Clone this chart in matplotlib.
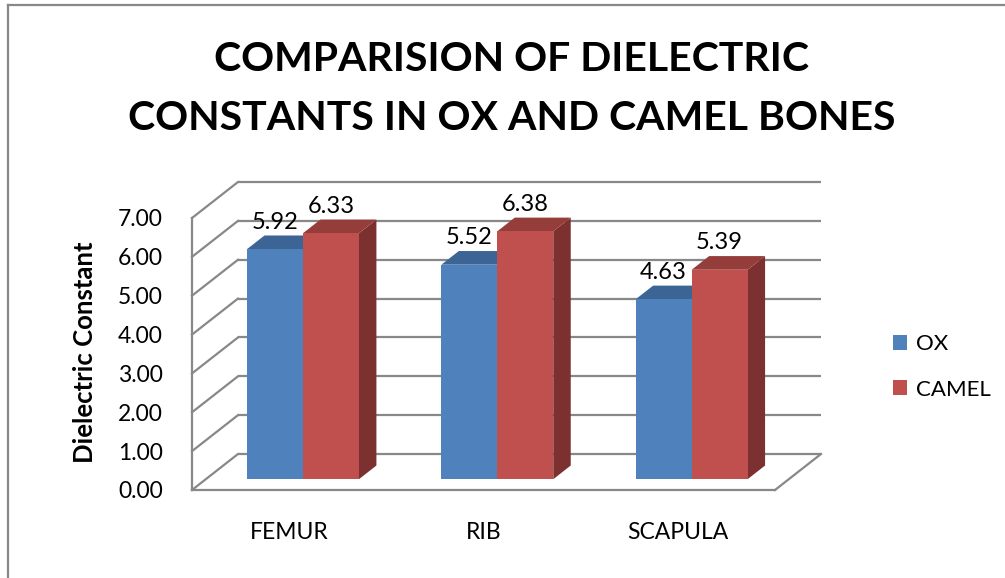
import matplotlib
matplotlib.use("Agg")
import matplotlib.pyplot as plt
from matplotlib.patches import Polygon, Rectangle, Patch
from matplotlib.lines import Line2D

plt.rcParams['font.family'] = ['Lato', 'DejaVu Sans']

# ---- data ----
categories = ["FEMUR", "RIB", "SCAPULA"]
series_names = ["OX", "CAMEL"]
ox_values = [5.92, 5.52, 4.63]
camel_values = [6.33, 6.38, 5.39]
y_ticks = [0, 1, 2, 3, 4, 5, 6, 7]
y_tick_labels = ["0.00", "1.00", "2.00", "3.00", "4.00", "5.00", "6.00", "7.00"]
title = "COMPARISION OF DIELECTRIC\nCONSTANTS IN OX AND CAMEL BONES"
y_label = "Dielectric Constant"

# ---- style ----
front_colors = ["#4F81BD", "#C0504D"]
top_colors = ["#3C6494", "#953D3B"]
side_colors = ["#2F5180", "#7C3130"]
grid_color = "#888888"

W, H = 1005, 578
fig = plt.figure(figsize=(W / 100, H / 100), dpi=100)
fig.patch.set_facecolor("white")

# axes in pixel layout
left_px, right_px, bottom_px, top_px = 192, 821, 490, 182
ax = fig.add_axes([left_px / W, (H - bottom_px) / H,
                   (right_px - left_px) / W, (bottom_px - top_px) / H])
ncat = len(categories)
ymax = 7
sx = 583 / ncat          # px per category
sy = 272 / ymax          # px per unit
dxd = 46 / sx            # depth offset in data units
dyd = 36 / sy
ax.set_xlim(0, ncat + dxd)
ax.set_ylim(0, ymax + dyd)
for s in ax.spines.values():
    s.set_visible(False)
ax.set_facecolor("none")

lw = 1.6
# back wall gridlines
for v in y_ticks:
    ax.plot([dxd, ncat + dxd], [v + dyd, v + dyd], color=grid_color, lw=lw,
            clip_on=False, zorder=1, solid_capstyle='butt')
# left wall
for v in y_ticks:
    ax.plot([0, dxd], [v, v + dyd], color=grid_color, lw=lw, clip_on=False, zorder=1)
ax.plot([0, 0], [0, ymax], color=grid_color, lw=lw, clip_on=False, zorder=1)
# floor
ax.plot([0, ncat], [0, 0], color=grid_color, lw=lw, clip_on=False, zorder=1)
ax.plot([ncat, ncat + dxd], [0, dyd], color=grid_color, lw=lw, clip_on=False, zorder=1)

# bars
bw = 0.288
f0 = 0.30   # front position in depth
d = 0.38    # bar depth fraction
values = [ox_values, camel_values]
yb = f0 * dyd
for i in range(ncat):
    for j in range(len(series_names)):
        val = values[j][i]
        x0 = i + 0.5 - bw + j * bw + f0 * dxd
        ddx, ddy = d * dxd, d * dyd
        side = Polygon([(x0 + bw, yb), (x0 + bw + ddx, yb + ddy),
                        (x0 + bw + ddx, yb + val + ddy), (x0 + bw, yb + val)],
                       closed=True, facecolor=side_colors[j], edgecolor='none',
                       zorder=2, clip_on=False)
        top = Polygon([(x0, yb + val), (x0 + bw, yb + val),
                       (x0 + bw + ddx, yb + val + ddy), (x0 + ddx, yb + val + ddy)],
                      closed=True, facecolor=top_colors[j], edgecolor='none',
                      zorder=2, clip_on=False)
        front = Rectangle((x0, yb), bw, val, facecolor=front_colors[j],
                          edgecolor='none', zorder=2, clip_on=False)
        ax.add_patch(side)
        ax.add_patch(top)
        ax.add_patch(front)
        ax.annotate(f"{val:.2f}", xy=(x0 + bw / 2, yb + val), xytext=(0, 19.4),
                    textcoords='offset points', ha='center', va='center',
                    fontsize=17, color='black', zorder=5)

# ticks
ax.set_yticks(y_ticks)
ax.set_yticklabels(y_tick_labels, fontsize=16.5)
ax.tick_params(axis='y', length=0, pad=21)
ax.set_xticks([i + 0.5 for i in range(ncat)])
ax.set_xticklabels(categories, fontsize=16.5)
ax.tick_params(axis='x', length=0, pad=23)

# y label
fig.text(85 / W, 1 - 352 / H, y_label, rotation=90, ha='center', va='center',
         fontsize=18.5, fontweight='bold')

# title
fig.text(512 / W, 1 - 89 / H, title, ha='center', va='center', fontsize=29.5,
         fontweight='bold', linespacing=1.72)

# legend
handles = [Patch(facecolor=c, edgecolor='none') for c in front_colors]
fig.legend(handles, series_names, loc='upper left',
           bbox_to_anchor=(893 / W, 1 - 334 / H), frameon=False,
           fontsize=16, handlelength=0.65, handleheight=0.65,
           handletextpad=0.4, labelspacing=1.15, borderpad=0, borderaxespad=0)

# outer border
fig.add_artist(Line2D([8 / W, 1.0], [1 - 5 / H, 1 - 5 / H], transform=fig.transFigure,
                      color=grid_color, lw=1.6))
fig.add_artist(Line2D([8 / W, 8 / W], [0, 1 - 5 / H], transform=fig.transFigure,
                      color=grid_color, lw=1.6))

fig.savefig("out.png", dpi=100, facecolor="white")
